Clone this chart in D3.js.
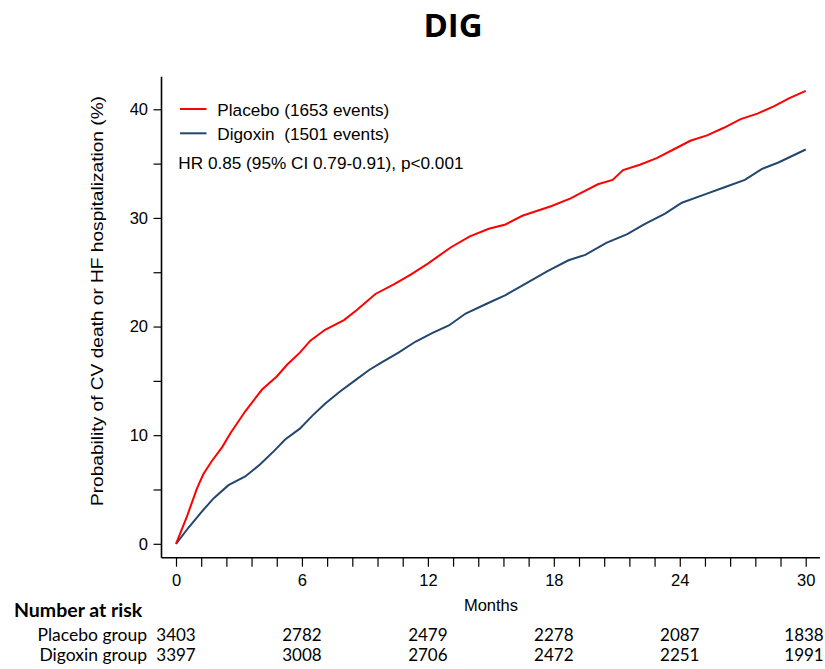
<!DOCTYPE html>
<html>
<head>
<meta charset="utf-8">
<script src="https://cdn.jsdelivr.net/npm/d3@7"></script>
<style>
  html, body { margin: 0; padding: 0; background: #fff; }
  svg { display: block; }
  text { white-space: pre; }
</style>
</head>
<body>
<svg id="chart" width="825" height="669"></svg>
<script>
// ---- data ----
const placeboMonths = [0, 0.5, 1.0, 1.3, 1.7, 2.2, 2.6, 3.3, 4.1, 4.8, 5.3, 5.9, 6.4, 7.1, 8.0, 8.6, 9.5, 10.4, 11.2, 12.0, 13.1, 14.0, 14.9, 15.7, 16.5, 17.9, 18.8, 19.3, 20.1, 20.8, 21.3, 22.1, 22.9, 23.7, 24.5, 25.3, 26.1, 26.9, 27.7, 28.5, 29.2, 30.0];
const placeboRisk   = [0, 2.4, 5.1, 6.4, 7.6, 8.9, 10.2, 12.2, 14.2, 15.4, 16.5, 17.6, 18.7, 19.7, 20.6, 21.5, 23.0, 23.9, 24.8, 25.8, 27.3, 28.3, 29.0, 29.4, 30.2, 31.1, 31.8, 32.3, 33.1, 33.5, 34.4, 34.9, 35.5, 36.3, 37.1, 37.6, 38.3, 39.1, 39.6, 40.3, 41.0, 41.7];
const digoxinMonths = [0, 0.6, 1.2, 1.8, 2.5, 3.3, 4.0, 4.7, 5.2, 5.9, 6.5, 7.1, 7.8, 8.5, 9.2, 9.8, 10.6, 11.4, 12.2, 13.0, 13.8, 14.8, 15.7, 16.7, 17.7, 18.7, 19.5, 20.5, 21.5, 22.3, 23.3, 24.1, 25.1, 26.1, 27.1, 27.9, 28.7, 30.0];
const digoxinRisk   = [0, 1.5, 2.9, 4.2, 5.4, 6.2, 7.3, 8.6, 9.6, 10.6, 11.8, 12.9, 14.0, 15.0, 16.0, 16.7, 17.6, 18.6, 19.4, 20.1, 21.2, 22.1, 22.9, 24.0, 25.1, 26.1, 26.6, 27.7, 28.5, 29.4, 30.4, 31.4, 32.1, 32.8, 33.5, 34.5, 35.1, 36.3];

const yTicks = [0, 5, 10, 15, 20, 25, 30, 35, 40];
const yTickLabels = [0, 10, 20, 30, 40];
const xMinorTicks = d3.range(0, 26).map(i => +(i * 1.2).toFixed(1));
const xTickLabels = [0, 6, 12, 18, 24, 30];

const riskTimes = [0, 6, 12, 18, 24, 30];
const riskGroups = ["Placebo group", "Digoxin group"];
const placeboAtRisk = [3403, 2782, 2479, 2278, 2087, 1838];
const digoxinAtRisk = [3397, 3008, 2706, 2472, 2251, 1991];

const seriesNames = ["Placebo (1653 events)", "Digoxin  (1501 events)"];
const hrText = "HR 0.85 (95% CI 0.79-0.91), p<0.001";
const titleText = "DIG";
const yLabel = "Probability of CV death or HF hospitalization (%)";
const xLabel = "Months";

// ---- drawing ----
const svg = d3.select("#chart");
const arial = "'Liberation Sans', Arial, sans-serif";
const calibri = "Lato, 'Open Sans', sans-serif";
const RED = "#ff0000", BLUE = "#22476f";

const x = d3.scaleLinear().domain([0, 30]).range([176, 805.7]);
const y = d3.scaleLinear().domain([0, 40]).range([543.8, 109.3]);

const axisX0 = 161.5, axisY0 = 557.7, axisTop = 76.7, axisRight = 820;

// title
svg.append("text").attr("x", 453).attr("y", 37).attr("text-anchor", "middle")
  .attr("font-family", "'Open Sans', sans-serif").attr("font-weight", "bold")
  .attr("font-size", 33).attr("fill", "#000").text(titleText);

// y axis
const yAxis = d3.axisLeft(y).tickValues(yTicks).tickSize(8)
  .tickFormat(d => yTickLabels.includes(d) ? d : "");
const gy = svg.append("g").attr("transform", `translate(${axisX0},0)`).call(yAxis);
gy.select(".domain").remove();
gy.append("line").attr("x1", 0).attr("x2", 0).attr("y1", axisTop).attr("y2", axisY0)
  .attr("stroke", "#000").attr("stroke-width", 1.6);
gy.selectAll(".tick line").attr("stroke", "#000").attr("stroke-width", 1.2);
gy.selectAll(".tick text").attr("font-family", arial).attr("font-size", 16.5)
  .attr("fill", "#000").attr("x", -13.5);

// x axis
const xAxis = d3.axisBottom(x).tickValues(xMinorTicks).tickSize(9)
  .tickFormat(d => xTickLabels.includes(d) ? d : "");
const gx = svg.append("g").attr("transform", `translate(0,${axisY0})`).call(xAxis);
gx.select(".domain").remove();
gx.append("line").attr("x1", axisX0).attr("x2", axisRight).attr("y1", 0).attr("y2", 0)
  .attr("stroke", "#000").attr("stroke-width", 1.6);
gx.selectAll(".tick line").attr("stroke", "#000").attr("stroke-width", 1.2);
gx.selectAll(".tick text").attr("font-family", arial).attr("font-size", 16.5)
  .attr("fill", "#000").attr("y", 17);

// axis labels
svg.append("text").attr("transform", `translate(103,301) rotate(-90)`)
  .attr("text-anchor", "middle").attr("font-family", arial).attr("font-size", 17)
  .attr("textLength", 410).attr("lengthAdjust", "spacingAndGlyphs")
  .attr("fill", "#000").text(yLabel);
svg.append("text").attr("x", 491).attr("y", 611).attr("text-anchor", "middle")
  .attr("font-family", arial).attr("font-size", 16.5).attr("fill", "#000").text(xLabel);

// curves
const line = d3.line().x(d => x(d[0])).y(d => y(d[1])).curve(d3.curveLinear);
const placeboData = placeboMonths.map((m, i) => [m, placeboRisk[i]]);
const digoxinData = digoxinMonths.map((m, i) => [m, digoxinRisk[i]]);
svg.append("path").datum(digoxinData).attr("d", line).attr("fill", "none")
  .attr("stroke", BLUE).attr("stroke-width", 2);
svg.append("path").datum(placeboData).attr("d", line).attr("fill", "none")
  .attr("stroke", RED).attr("stroke-width", 2);

// legend
const legend = svg.append("g");
[[RED, 109, 115.5], [BLUE, 133.3, 139.5]].forEach((l, i) => {
  legend.append("line").attr("x1", 180).attr("x2", 206.5).attr("y1", l[1]).attr("y2", l[1])
    .attr("stroke", l[0]).attr("stroke-width", 2);
  legend.append("text").attr("x", 217.3).attr("y", l[2]).attr("font-family", arial)
    .attr("font-size", 17.2).attr("fill", "#000").text(seriesNames[i]);
});
legend.append("text").attr("x", 178.3).attr("y", 168.5).attr("font-family", arial)
  .attr("font-size", 17.2).attr("fill", "#000").text(hrText);

// number at risk
svg.append("text").attr("x", 14).attr("y", 616.5).attr("font-family", calibri)
  .attr("font-weight", "bold").attr("font-size", 19.5).attr("fill", "#000").text("Number at risk");
const riskRows = [placeboAtRisk, digoxinAtRisk];
const rowY = [641, 661];
riskGroups.forEach((g, i) => {
  svg.append("text").attr("x", 147).attr("y", rowY[i]).attr("text-anchor", "end")
    .attr("font-family", calibri).attr("font-size", 17.5).attr("fill", "#000").text(g);
  svg.append("g").selectAll("text").data(riskRows[i]).join("text")
    .attr("x", (d, j) => Math.min(x(riskTimes[j]), 804)).attr("y", rowY[i]).attr("text-anchor", "middle")
    .attr("font-family", calibri).attr("font-size", 17).attr("fill", "#000").text(d => d);
});
</script>
</body>
</html>
